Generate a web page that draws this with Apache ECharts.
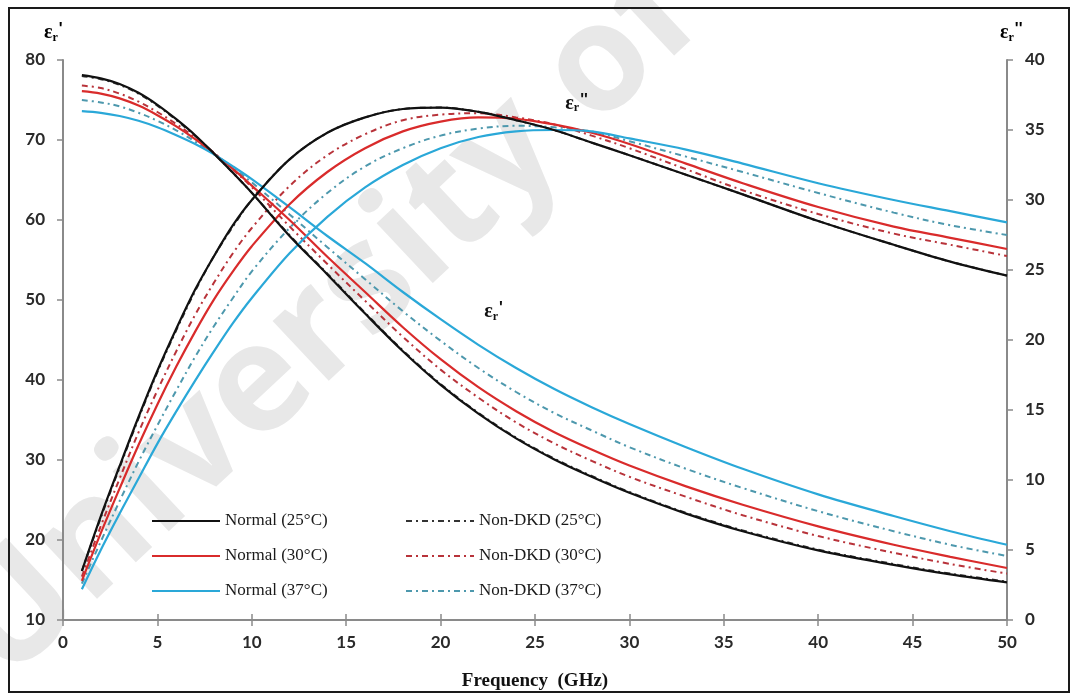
<!DOCTYPE html>
<html>
<head>
<meta charset="utf-8">
<script src="https://cdn.jsdelivr.net/npm/echarts@6/dist/echarts.min.js"></script>
<style>
  html, body { margin: 0; padding: 0; background: #fff; }
  #chart { width: 1077px; height: 698px; }
</style>
</head>
<body>
<div id="chart"></div>
<script>
// ---- data ----
const freq = [1, 2, 3, 4, 5, 6, 7, 8, 9, 10, 12, 14, 16, 18, 20, 22, 24, 26, 28, 30, 33, 36, 40, 44, 47, 50];
const xTicks = [0, 5, 10, 15, 20, 25, 30, 35, 40, 45, 50];
const leftTicks = [10, 20, 30, 40, 50, 60, 70, 80];
const rightTicks = [0, 5, 10, 15, 20, 25, 30, 35, 40];

// epsilon' (left axis)
const epsReal_N25 = [78.1, 77.7, 77.0, 75.9, 74.4, 72.6, 70.6, 68.3, 65.9, 63.4, 58.0, 53.2, 48.3, 43.6, 39.4, 35.8, 32.7, 30.1, 27.9, 25.9, 23.3, 21.1, 18.7, 16.9, 15.7, 14.7];
const epsReal_N30 = [76.1, 75.8, 75.2, 74.3, 73.1, 71.7, 70.1, 68.3, 66.4, 64.3, 60.0, 55.4, 51.0, 46.6, 42.6, 39.1, 36.1, 33.5, 31.3, 29.3, 26.7, 24.4, 21.7, 19.4, 17.9, 16.5];
const epsReal_N37 = [73.6, 73.4, 73.0, 72.4, 71.6, 70.6, 69.5, 68.2, 66.7, 65.1, 61.6, 58.0, 54.6, 51.0, 47.6, 44.4, 41.5, 38.9, 36.6, 34.5, 31.6, 28.9, 25.7, 23.0, 21.1, 19.4];
const epsReal_D25 = [78.0, 77.6, 76.9, 75.8, 74.3, 72.5, 70.5, 68.3, 65.9, 63.4, 58.1, 53.3, 48.4, 43.7, 39.5, 35.9, 32.8, 30.2, 28.0, 26.0, 23.4, 21.2, 18.8, 17.0, 15.8, 14.8];
const epsReal_D30 = [76.8, 76.5, 75.8, 74.8, 73.5, 72.0, 70.3, 68.4, 66.3, 64.1, 59.2, 54.5, 49.9, 45.4, 41.3, 37.8, 34.7, 32.1, 29.9, 27.9, 25.4, 23.1, 20.5, 18.4, 17.0, 15.8];
const epsReal_D37 = [75.0, 74.7, 74.2, 73.4, 72.4, 71.2, 69.8, 68.2, 66.5, 64.7, 60.7, 56.6, 52.6, 48.6, 44.9, 41.5, 38.5, 35.9, 33.7, 31.6, 28.9, 26.5, 23.6, 21.1, 19.4, 18.0];

// epsilon'' (right axis)
const epsImag_N25 = [3.5, 7.4, 11.0, 14.5, 17.8, 20.8, 23.6, 26.0, 28.2, 30.0, 32.9, 34.8, 35.9, 36.5, 36.6, 36.3, 35.7, 35.0, 34.1, 33.2, 31.8, 30.4, 28.5, 26.8, 25.6, 24.6];
const epsImag_N30 = [2.8, 6.2, 9.4, 12.5, 15.4, 18.1, 20.6, 22.9, 24.9, 26.7, 29.7, 32.0, 33.7, 34.9, 35.6, 35.9, 35.8, 35.4, 34.8, 34.0, 32.6, 31.2, 29.5, 28.1, 27.3, 26.5];
const epsImag_N37 = [2.2, 5.0, 7.6, 10.1, 12.6, 14.9, 17.1, 19.2, 21.2, 23.0, 26.2, 28.8, 30.9, 32.5, 33.7, 34.5, 34.9, 35.0, 34.9, 34.4, 33.6, 32.6, 31.2, 30.0, 29.2, 28.4];
const epsImag_D25 = [3.5, 7.3, 10.9, 14.4, 17.7, 20.7, 23.5, 26.0, 28.1, 30.0, 32.9, 34.8, 35.9, 36.5, 36.6, 36.3, 35.7, 35.0, 34.1, 33.2, 31.8, 30.4, 28.5, 26.8, 25.6, 24.6];
const epsImag_D30 = [3.1, 6.7, 10.1, 13.4, 16.4, 19.2, 21.8, 24.1, 26.2, 28.0, 31.0, 33.2, 34.7, 35.7, 36.1, 36.2, 35.9, 35.4, 34.6, 33.7, 32.2, 30.7, 29.0, 27.6, 26.8, 26.0];
const epsImag_D37 = [2.6, 5.6, 8.5, 11.3, 13.9, 16.4, 18.8, 21.0, 23.0, 24.9, 28.0, 30.5, 32.4, 33.7, 34.6, 35.1, 35.3, 35.2, 34.9, 34.2, 33.1, 32.0, 30.5, 29.1, 28.2, 27.5];

const names = {
  N25: 'Normal (25°C)', N30: 'Normal (30°C)', N37: 'Normal (37°C)',
  D25: 'Non-DKD (25°C)', D30: 'Non-DKD (30°C)', D37: 'Non-DKD (37°C)'
};
// ---- end data ----

const colors = {
  N25: '#111111', N30: '#d92b2b', N37: '#2aa8d8',
  D25: '#333333', D30: '#b8333a', D37: '#4d98ad'
};
const dashDot = [6, 4, 2, 4];

function pairs(vals) { return freq.map((f, i) => [f, vals[i]]); }

function mk(key, vals, axis, extra) {
  const dashed = key.charAt(0) === 'D';
  return Object.assign({
    name: names[key],
    type: 'line',
    yAxisIndex: axis,
    data: pairs(vals),
    smooth: 0.35,
    symbol: 'none',
    silent: true,
    z: dashed ? 2 : 3,
    lineStyle: {
      color: colors[key],
      width: dashed ? 2 : 2.2,
      type: dashed ? dashDot : 'solid'
    },
    itemStyle: { color: colors[key] }
  }, extra || {});
}

const subRich = {
  e: { fontFamily: 'Liberation Serif', fontWeight: 'bold', fontSize: 20, color: '#111' },
  s: { fontFamily: 'Liberation Serif', fontWeight: 'bold', fontSize: 12, color: '#111', padding: [10, 0, 0, 0] },
  p: { fontFamily: 'Liberation Sans', fontWeight: 'bold', fontSize: 16, color: '#111', padding: [0, 0, 6, 1] }
};

const labelFont = { fontFamily: 'Lato', fontWeight: 'bold', fontSize: 17, color: '#2a2a2a' };

const series = [
  mk('D25', epsReal_D25, 0), mk('D30', epsReal_D30, 0), mk('D37', epsReal_D37, 0),
  mk('D25', epsImag_D25, 1), mk('D30', epsImag_D30, 1), mk('D37', epsImag_D37, 1),
  mk('N30', epsReal_N30, 0), mk('N37', epsReal_N37, 0),
  mk('N30', epsImag_N30, 1), mk('N37', epsImag_N37, 1),
  mk('N25', epsReal_N25, 0, {
    markPoint: {
      symbol: 'circle', symbolSize: 0, silent: true,
      label: { show: true, position: 'inside', formatter: "{e|ε}{s|r}{p|'}", rich: subRich },
      data: [{ coord: [22.8, 48.5] }]
    }
  }),
  mk('N25', epsImag_N25, 1, {
    markPoint: {
      symbol: 'circle', symbolSize: 0, silent: true,
      label: { show: true, position: 'inside', formatter: "{e|ε}{s|r}{p|''}", rich: subRich },
      data: [{ coord: [27.2, 36.9] }]
    }
  })
];

const legendText = { fontFamily: 'Liberation Serif', fontSize: 17, color: '#1a1a1a', lineHeight: 20 };
const axisLineStyle = { color: '#8a8a8a', width: 2 };
const tickStyle = { color: '#8a8a8a', width: 1.5 };
const legendCommon = {
  orient: 'vertical', top: 506,
  itemWidth: 68, itemHeight: 14, itemGap: 15,
  itemStyle: { opacity: 0 },
  textStyle: legendText, selectedMode: false
};

const chart = echarts.init(document.getElementById('chart'), null, { renderer: 'canvas' });
chart.setOption({
  animation: false,
  backgroundColor: '#ffffff',
  grid: { left: 63, right: 70, top: 60, bottom: 78, containLabel: false },
  legend: [
    Object.assign({ data: [names.N25, names.N30, names.N37], left: 146 }, legendCommon),
    Object.assign({ data: [names.D25, names.D30, names.D37], left: 400 }, legendCommon)
  ],
  xAxis: [
    {
      type: 'value', min: xTicks[0], max: xTicks[xTicks.length - 1], interval: 5,
      name: 'Frequency  (GHz)', nameLocation: 'middle', nameGap: 52,
      nameTextStyle: { fontFamily: 'Liberation Serif', fontWeight: 'bold', fontSize: 19, color: '#111' },
      axisLine: { show: true, onZero: false, lineStyle: axisLineStyle },
      axisTick: { show: true, inside: false, length: 6, lineStyle: tickStyle },
      axisLabel: Object.assign({ margin: 14 }, labelFont),
      splitLine: { show: false }
    },
    {
      type: 'value', min: xTicks[0], max: xTicks[xTicks.length - 1], interval: 5,
      position: 'bottom',
      axisLine: { show: false, onZero: false },
      axisTick: { show: true, inside: true, length: 6, lineStyle: tickStyle },
      axisLabel: { show: false },
      splitLine: { show: false }
    }
  ],
  yAxis: [
    {
      type: 'value', min: leftTicks[0], max: leftTicks[leftTicks.length - 1], interval: 10,
      position: 'left',
      axisLine: { show: true, onZero: false, lineStyle: axisLineStyle },
      axisTick: { show: true, inside: false, length: 6, lineStyle: tickStyle },
      axisLabel: Object.assign({ margin: 18 }, labelFont),
      splitLine: { show: false }
    },
    {
      type: 'value', min: rightTicks[0], max: rightTicks[rightTicks.length - 1], interval: 5,
      position: 'right',
      axisLine: { show: true, onZero: false, lineStyle: axisLineStyle },
      axisTick: { show: true, inside: false, length: 6, lineStyle: tickStyle },
      axisLabel: Object.assign({ margin: 18 }, labelFont),
      splitLine: { show: false }
    }
  ],
  graphic: [
    {
      type: 'text', z: -10, silent: true,
      x: 28, y: 708, rotation: 0.755,
      style: { text: 'University of', font: 'bold 150px "Open Sans"', fill: '#e8e8e8', textVerticalAlign: 'bottom' }
    },
    {
      type: 'text', z: 50, silent: true, x: 44, y: 22,
      style: { text: "{e|ε}{s|r}{p|'}", rich: subRich }
    },
    {
      type: 'text', z: 50, silent: true, x: 1000, y: 22,
      style: { text: "{e|ε}{s|r}{p|''}", rich: subRich }
    },
    {
      type: 'rect', z: 100, silent: true,
      shape: { x: 9, y: 8, width: 1060, height: 684 },
      style: { fill: 'none', stroke: '#1a1a1a', lineWidth: 2 }
    }
  ],
  series: series
});
</script>
</body>
</html>
